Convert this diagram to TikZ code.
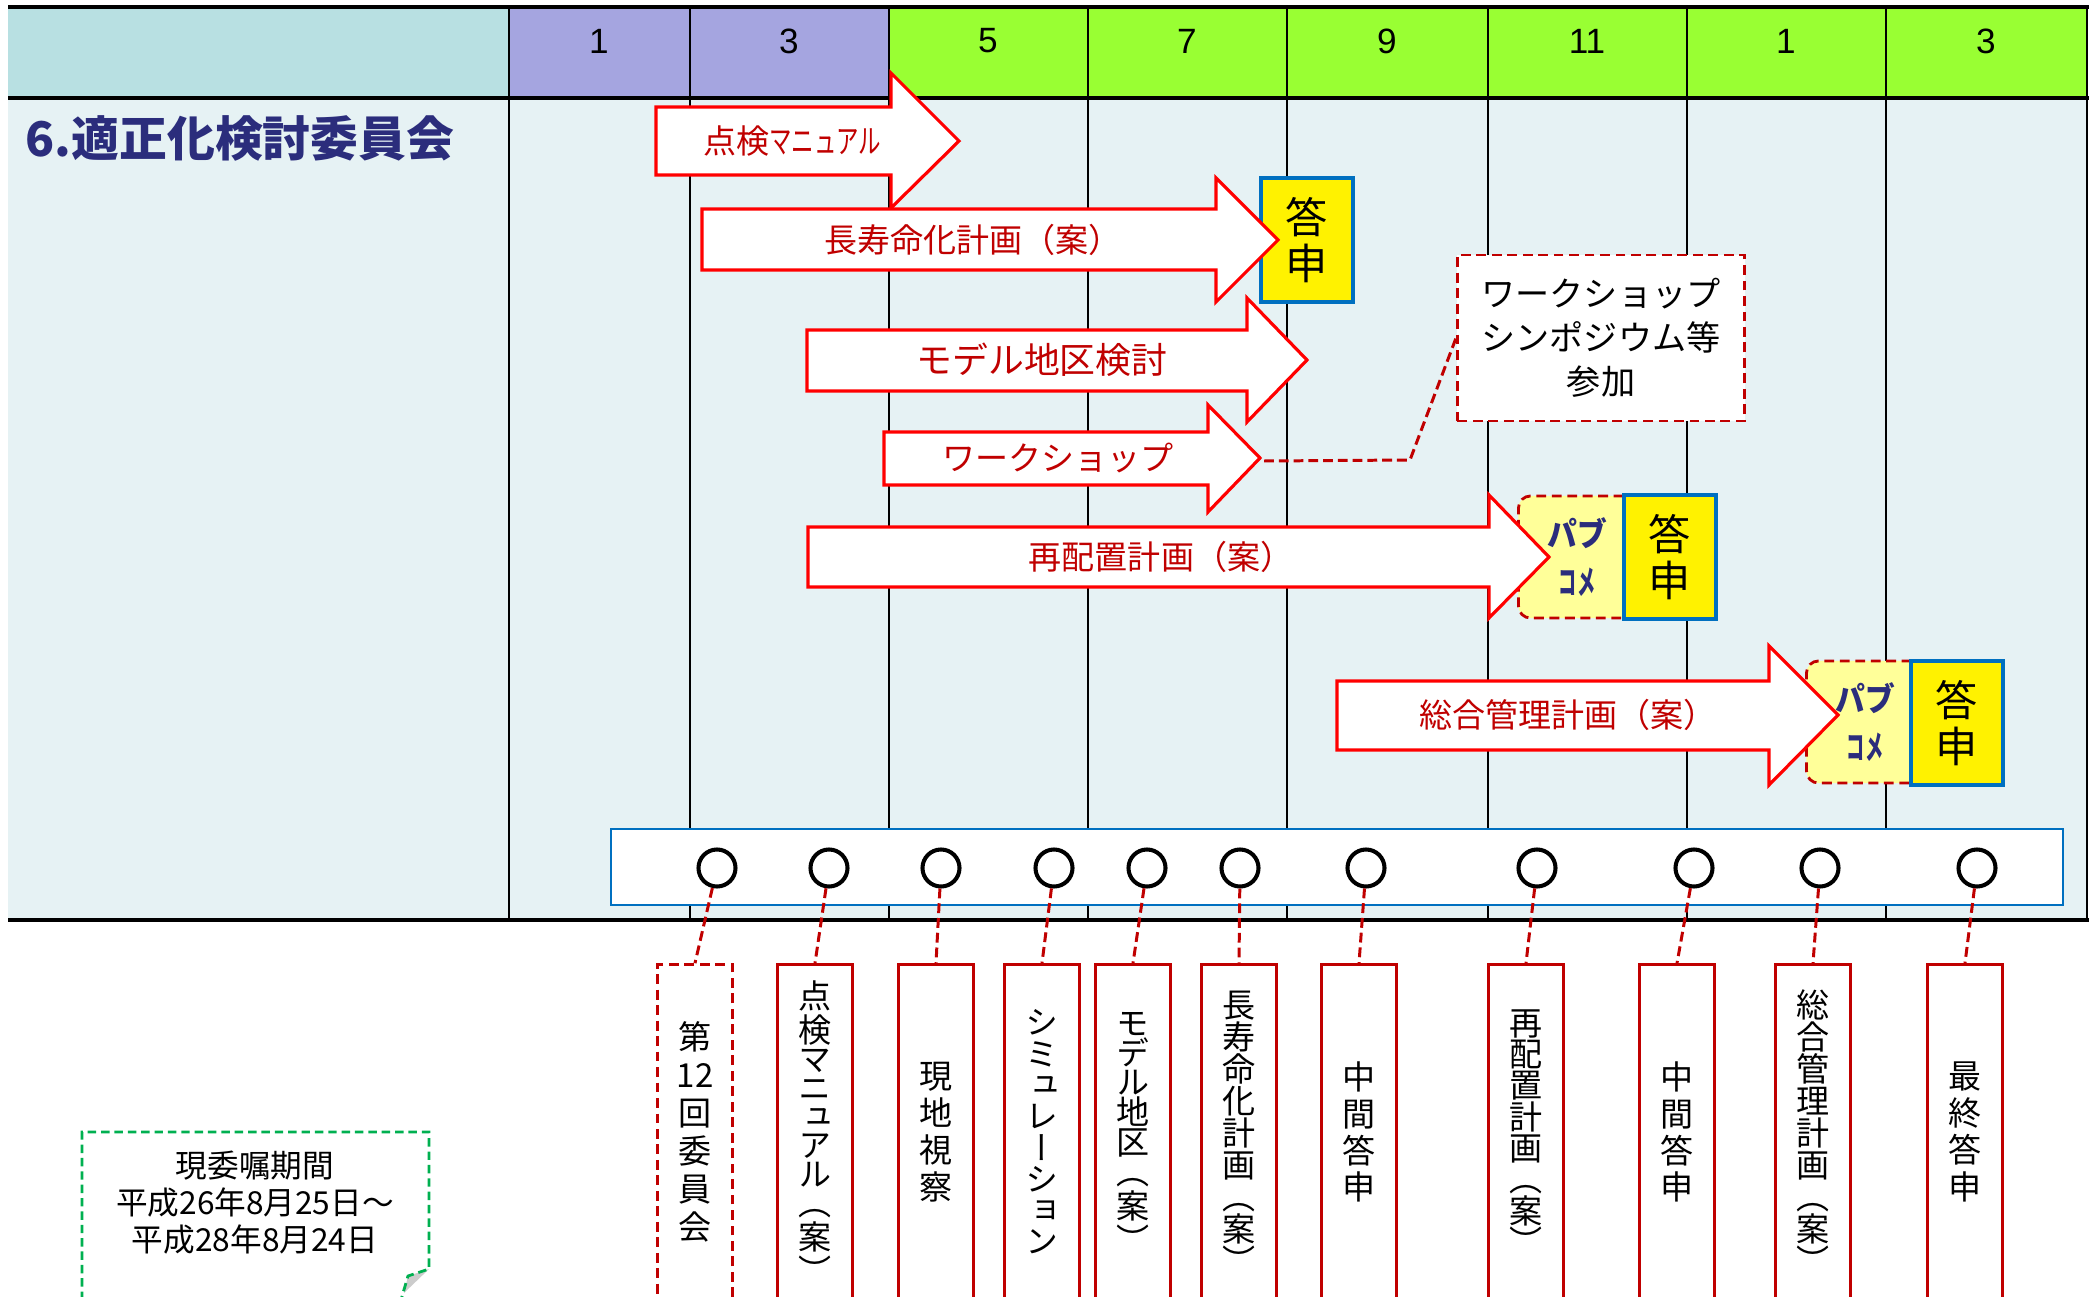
\documentclass[tikz,border=0pt]{standalone}
\usepackage{graphicx}
\usepackage{fontspec}
\setmainfont{Noto Sans CJK JP}
\newfontfamily\vfont[RawFeature=+vert]{Noto Sans CJK JP}
\newfontfamily\numfont{Liberation Sans}
\usetikzlibrary{positioning}

\definecolor{headteal}{HTML}{B8E0E2}
\definecolor{headpurple}{HTML}{A5A5E0}
\definecolor{headgreen}{HTML}{99FF33}
\definecolor{bodyblue}{HTML}{E6F2F4}
\definecolor{titlenavy}{HTML}{2B2D7C}
\definecolor{arrowred}{HTML}{FF0000}
\definecolor{darkred}{HTML}{C00000}
\definecolor{boxblue}{HTML}{0070C0}
\definecolor{pcyellow}{HTML}{FFFF99}
\definecolor{termgreen}{HTML}{00B050}

\begin{document}
\begin{tikzpicture}[%
			x=0.01cm, y=-0.01cm,
			grid/.style={line width=0.6pt},
			rule/.style={line width=1.2pt},
			arrowbox/.style={draw=arrowred, fill=white, line width=0.9pt},
			arrowtext/.style={text=darkred, inner sep=0pt, font=\fontsize{9.4}{11}\selectfont},
			month/.style={font=\numfont\fontsize{10}{12}\selectfont, inner sep=0pt},
			tosin/.style={%
				draw=boxblue, fill=yellow,
				line width=1.2pt,
				minimum width=0.92cm,
				minimum height=1.24cm,
				inner sep=0pt,
				align=center,
				font=\fontsize{12}{13}\selectfont
			},
			pubcom/.style={%
				draw=darkred, fill=pcyellow,
				dash pattern=on 2.8pt off 1.6pt,
				line width=0.8pt,
				rounded corners=0.12cm,
				minimum width=1.17cm,
				minimum height=1.22cm,
				inner sep=0pt,
				align=center,
				text=titlenavy,
				font=\bfseries\fontsize{9.4}{13.4}\selectfont
			},
			note/.style={%
				draw=darkred, fill=white,
				dash pattern=on 2.8pt off 1.6pt,
				line width=0.8pt,
				minimum width=2.87cm,
				minimum height=1.66cm,
				align=center,
				font=\fontsize{9.7}{12.5}\selectfont
			},
			circ/.style={circle, draw, line width=1.15pt, minimum size=0.37cm, inner sep=0pt},
			lab/.style={%
				draw=darkred, fill=white,
				line width=0.7pt,
				minimum width=0.75cm,
				minimum height=3.35cm,
				inner sep=0pt,
				align=center,
				font=\vfont\fontsize{9.4}{#1}\selectfont
			},
			lab/.default=10.5,
			conn/.style={draw=darkred, line width=0.85pt, dash pattern=on 2.8pt off 1.4pt}
			]
			\useasboundingbox (0,0) rectangle (2096,1297);

			% table background
			\fill[headteal] (8,7) rectangle (509,98);
			\fill[headpurple] (509,7) rectangle (889,98);
			\fill[headgreen] (889,7) rectangle (2087,98);
			\fill[bodyblue] (8,98) rectangle (2087,920);
			\draw[grid] (509,7) -- (509,920) (690,7) -- (690,920)
			(889,7) -- (889,920) (1088,7) -- (1088,920)
			(1287,7) -- (1287,920) (1488,7) -- (1488,920)
			(1687,7) -- (1687,920) (1886,7) -- (1886,920)
			(2087,7) -- (2087,920);
			\draw[rule] (8,7) -- (2089,7) (8,98) -- (2089,98) (8,920) -- (2089,920);

			\node[month] (m1) at (599,41) {1};
			\node[month] (m2) at (789,41) {3};
			\node[month] (m3) at (988,41) {5};
			\node[month] (m4) at (1187,41) {7};
			\node[month] (m5) at (1387,41) {9};
			\node[month] (m6) at (1587,41) {11};
			\node[month] (m7) at (1786,41) {1};
			\node[month] (m8) at (1986,41) {3};

			\node[anchor=west, text=titlenavy, inner sep=0pt,
				font=\bfseries\fontsize{13.6}{15}\selectfont] (title) at (25,138) {6.適正化検討委員会};

			% schedule strip
			\draw[draw=boxblue, fill=white, line width=0.45pt] (611,829) rectangle (2063,905);
			\node[circ] (c1) at (717,868) {};
			\node[circ] (c2) at (829,868) {};
			\node[circ] (c3) at (941,868) {};
			\node[circ] (c4) at (1054,868) {};
			\node[circ] (c5) at (1147,868) {};
			\node[circ] (c6) at (1240,868) {};
			\node[circ] (c7) at (1366,868) {};
			\node[circ] (c8) at (1537,868) {};
			\node[circ] (c9) at (1694,868) {};
			\node[circ] (c10) at (1820,868) {};
			\node[circ] (c11) at (1977,868) {};

			% boxes at the arrow heads
			\node[note] (callout) at (1601,338) {ワークショップ\\シンポジウム等\\参加};
			\node[pubcom] (pc1) at (1577,557) {\scalebox{0.9}[1]{パブ}\\\scalebox{0.55}[1]{コメ}};
			\node[pubcom] (pc2) at (1865,722) {\scalebox{0.9}[1]{パブ}\\\scalebox{0.55}[1]{コメ}};
			\node[tosin] (ts1) at (1307,240) {答\\申};
			\node[tosin] (ts2) at (1670,557) {答\\申};
			\node[tosin] (ts3) at (1957,723) {答\\申};

			% arrows
			\draw[arrowbox] (656,107) -- (891,107) -- (891,73) -- (959,141) -- (891,208) -- (891,175) -- (656,175) -- cycle;
			\node[arrowtext] (a1) at (792,141) {点検\scalebox{0.68}[1]{マニュアル}};
			\draw[arrowbox] (702,209) -- (1216,209) -- (1216,178) -- (1278,240) -- (1216,302) -- (1216,270) -- (702,270) -- cycle;
			\node[arrowtext] (a2) at (973,240) {長寿命化計画（案）};
			\draw[arrowbox] (807,330) -- (1247,330) -- (1247,298) -- (1307,360) -- (1247,422) -- (1247,391) -- (807,391) -- cycle;
			\node[arrowtext, font=\fontsize{10.2}{12}\selectfont] (a3) at (1042,360) {モデル地区検討};
			\draw[arrowbox] (884,432) -- (1208,432) -- (1208,405) -- (1260,458) -- (1208,512) -- (1208,485) -- (884,485) -- cycle;
			\coordinate (wstip) at (1264,461);
			\node[arrowtext] (a4) at (1058,458) {ワークショップ};
			\draw[arrowbox] (808,527) -- (1489,527) -- (1489,495) -- (1549,557) -- (1489,618) -- (1489,587) -- (808,587) -- cycle;
			\node[arrowtext] (a5) at (1161,557) {再配置計画（案）};
			\draw[arrowbox] (1337,681) -- (1769,681) -- (1769,646) -- (1838,715) -- (1769,785) -- (1769,750) -- (1337,750) -- cycle;
			\node[arrowtext] (a6) at (1568,715) {総合管理計画（案）};

			\draw[conn] (wstip) -- (1410,460) -- (callout.west);

			% meetings
			\node[lab=10.8, dash pattern=on 2.8pt off 1.6pt] (l1) at (695,1132) {第\\12\\回\\委\\員\\会};
			\node[lab=8.2] (l2) at (815,1132) {点\\検\\マ\\ニ\\ュ\\ア\\ル\\（\\案\\）};
			\node[lab] (l3) at (936,1132) {現\\地\\視\\察};
			\node[lab=8.9] (l4) at (1042,1132) {シ\\ミ\\ュ\\レ\\ー\\シ\\ョ\\ン};
			\node[lab=8.5] (l5) at (1133,1132) {モ\\デ\\ル\\地\\区\\（\\案\\）};
			\node[lab=9.1] (l6) at (1239,1132) {長\\寿\\命\\化\\計\\画\\（\\案\\）};
			\node[lab] (l7) at (1359,1132) {中\\間\\答\\申};
			\node[lab=8.9] (l8) at (1526,1132) {再\\配\\置\\計\\画\\（\\案\\）};
			\node[lab] (l9) at (1677,1132) {中\\間\\答\\申};
			\node[lab=9.1] (l10) at (1813,1132) {総\\合\\管\\理\\計\\画\\（\\案\\）};
			\node[lab] (l11) at (1965,1132) {最\\終\\答\\申};

			\draw[conn] (c1) -- (l1.north);
			\draw[conn] (c2) -- (l2.north);
			\draw[conn] (c3) -- (l3.north);
			\draw[conn] (c4) -- (l4.north);
			\draw[conn] (c5) -- (l5.north);
			\draw[conn] (c6) -- (l6.north);
			\draw[conn] (c7) -- (l7.north);
			\draw[conn] (c8) -- (l8.north);
			\draw[conn] (c9) -- (l9.north);
			\draw[conn] (c10) -- (l10.north);
			\draw[conn] (c11) -- (l11.north);

			% term of office
			\fill[black!20] (429,1269) -- (408,1276) -- (404,1293) -- cycle;
			\draw[termgreen, line width=0.8pt, dash pattern=on 2.4pt off 1.4pt]
			(82,1300) -- (82,1132) -- (429,1132) -- (429,1269) -- (408,1276) -- (401,1300);
			\node[align=center, inner sep=0pt, font=\fontsize{9}{10.5}\selectfont] (term) at (255,1203)
			{現委嘱期間\\平成26年8月25日～\\平成28年8月24日};
\end{tikzpicture}
\end{document}
